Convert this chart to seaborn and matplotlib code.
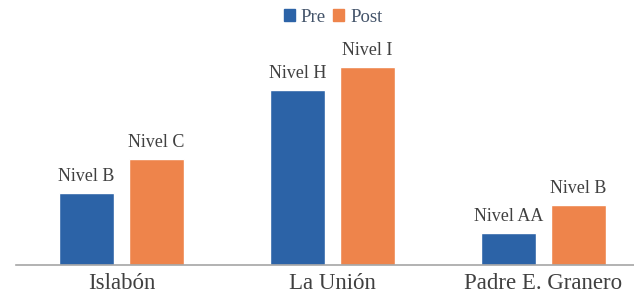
import pandas as pd
import matplotlib.pyplot as plt
import seaborn as sns
from matplotlib.patches import Patch

# data (bar heights in baseline-relative units)
categories = ["Islabón", "La Unión", "Padre E. Granero"]
pre_values = [72, 175, 32]
post_values = [106, 198, 60]
pre_labels = ["Nivel B", "Nivel H", "Nivel AA"]
post_labels = ["Nivel C", "Nivel I", "Nivel B"]
series = ["Pre", "Post"]

BLUE = "#2C63A7"
ORANGE = "#EE844B"

df = pd.DataFrame({
    "school": categories * 2,
    "phase": ["Pre"] * 3 + ["Post"] * 3,
    "value": pre_values + post_values,
    "label": pre_labels + post_labels,
})

sns.set_style("white")
plt.rcParams["font.family"] = ["Liberation Serif", "DejaVu Serif"]

fig = plt.figure(figsize=(6.34, 2.97), dpi=100)
ax = fig.add_axes([16 / 634, 32 / 297, 633 / 634, 265 / 297])

sns.barplot(
    data=df,
    x="school",
    y="value",
    hue="phase",
    hue_order=series,
    palette=[BLUE, ORANGE],
    width=0.664,
    gap=0.21,
    saturation=1,
    legend=False,
    ax=ax,
)

ax.set_xlim(-0.5, 2.5)
ax.set_ylim(0, 265)

# level labels above each bar
for container, labels in zip(ax.containers, [pre_labels, post_labels]):
    ax.bar_label(container, labels=labels, padding=6,
                 fontsize=13, color="#404040")

ax.set_xlabel("")
ax.set_ylabel("")
ax.set_yticks([])
ax.tick_params(axis="x", length=0, labelsize=16.5, labelcolor="#404040", pad=6)

for side in ["top", "right", "left"]:
    ax.spines[side].set_visible(False)
ax.spines["bottom"].set_color("#A6A6A6")
ax.spines["bottom"].set_linewidth(1.2)

handles = [Patch(color=BLUE), Patch(color=ORANGE)]
fig.legend(
    handles,
    series,
    loc="center",
    bbox_to_anchor=(333 / 634, 1 - 17 / 297),
    ncol=2,
    frameon=False,
    fontsize=13.5,
    labelcolor="#44546A",
    handlelength=0.6,
    handleheight=0.6,
    handletextpad=0.3,
    columnspacing=0.4,
)

fig.savefig("out.png", dpi=100)
